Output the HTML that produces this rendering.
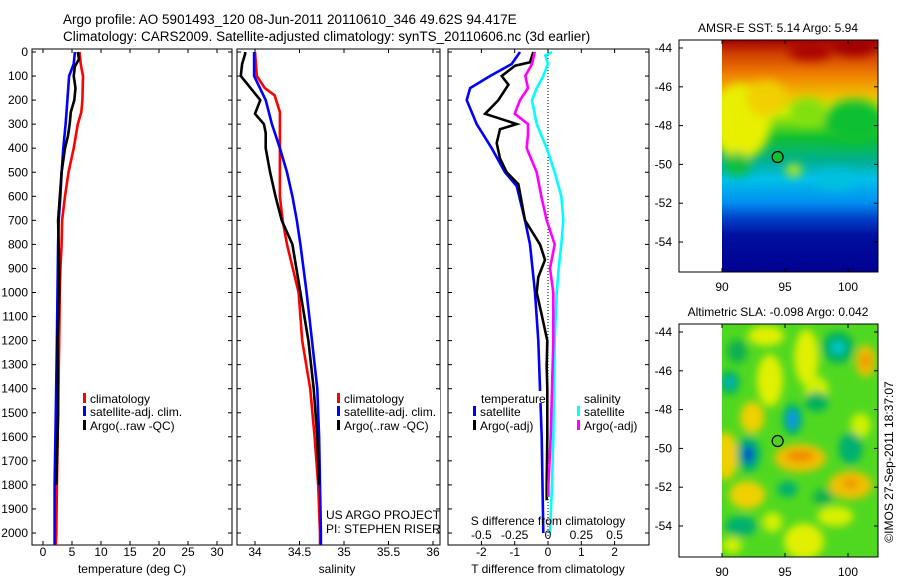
<!DOCTYPE html>
<html><head><meta charset="utf-8">
<style>
html,body{margin:0;padding:0;background:#fff;}
svg{display:block;font-family:"Liberation Sans",sans-serif;}
text{fill:#000;}
</style></head>
<body>
<svg id="fig" width="900" height="580" viewBox="0 0 900 580">
<defs>
<filter id="blur5" x="-20%" y="-20%" width="140%" height="140%"><feGaussianBlur stdDeviation="5"/></filter>
<filter id="blur3" x="-30%" y="-30%" width="160%" height="160%"><feGaussianBlur stdDeviation="4"/></filter>
<clipPath id="clipTop"><rect x="722" y="40" width="156" height="232"/></clipPath>
<clipPath id="clipBot"><rect x="722" y="324" width="156" height="233"/></clipPath>
<linearGradient id="sstGrad" x1="0" y1="0" x2="0" y2="1">
<stop offset="0" stop-color="#a00000"/><stop offset="0.06" stop-color="#d04000"/>
<stop offset="0.15" stop-color="#f08000"/><stop offset="0.24" stop-color="#f0c000"/>
<stop offset="0.31" stop-color="#c8f000"/><stop offset="0.42" stop-color="#10c030"/>
<stop offset="0.52" stop-color="#00b090"/><stop offset="0.6" stop-color="#00c0e8"/>
<stop offset="0.7" stop-color="#0090f0"/><stop offset="0.77" stop-color="#0040c8"/>
<stop offset="0.84" stop-color="#0010a0"/><stop offset="1" stop-color="#000090"/>
</linearGradient>
</defs>
<text x="63" y="24" font-size="13.5">Argo profile: AO 5901493_120 08-Jun-2011 20110610_346 49.62S 94.417E</text>
<text x="63" y="41" font-size="13.5">Climatology: CARS2009. Satellite-adjusted climatology: synTS_20110606.nc (3d earlier)</text>
<g id="plots"></g>
</svg>
<script>
// ---------- data ----------
const tickDepths = [0,100,200,300,400,500,600,700,800,900,1000,1100,1200,1300,1400,1500,1600,1700,1800,1900,2000];
// temperature (deg C)
const tClimDepth = [0,50,100,200,250,300,400,500,600,700,800,900,1000,1200,1500,1800,2000,2050];
const tClimVal   = [6.3,6.5,6.9,6.8,6.6,6.0,5.3,4.4,3.8,3.3,3.2,3.0,2.9,2.8,2.6,2.4,2.3,2.2];
const tSatDepth  = [0,50,100,200,300,400,500,600,700,800,1000,1200,1500,1800,2000,2050];
const tSatVal    = [5.5,5.3,4.5,4.2,3.9,3.5,3.2,3.0,2.7,2.6,2.5,2.4,2.2,2.0,2.0,2.0];
const tArgoDepth = [0,30,60,100,150,200,250,300,350,400,500,700,900,1000,1200,1500,1800];
const tArgoVal   = [6.0,6.2,5.5,5.3,5.6,5.4,4.8,4.6,4.3,3.8,3.2,2.6,2.8,2.8,2.5,2.6,2.3];
const tTicks = [0,5,10,15,20,25,30];
// salinity
const sClimDepth = [0,100,150,180,250,400,600,700,800,1000,1200,1400,1600,1800,2000,2050];
const sClimVal   = [34.0,34.02,34.11,34.22,34.28,34.28,34.28,34.31,34.36,34.49,34.53,34.62,34.67,34.71,34.73,34.73];
const sSatDepth  = [0,100,200,300,400,500,600,700,800,1000,1200,1400,1600,1800,2000,2050];
const sSatVal    = [33.99,33.99,34.12,34.19,34.28,34.36,34.42,34.47,34.51,34.58,34.64,34.70,34.72,34.73,34.74,34.74];
const sArgoDepth = [0,7,50,100,150,200,257,300,336,400,500,600,700,800,1000,1200,1400,1600,1800];
const sArgoVal   = [33.89,33.89,33.855,33.84,33.95,34.06,34.0,34.1,34.12,34.12,34.17,34.23,34.3,34.42,34.51,34.6,34.66,34.7,34.72];
const sTicks = [34,34.5,35,35.5,36];
// differences from climatology
const dTSatDepth = [0,50,100,150,200,300,400,500,557,700,800,1000,1200,1400,1600,2000];
const dTSatVal   = [-0.84,-1.09,-1.74,-2.34,-2.44,-2.14,-1.69,-1.29,-0.94,-0.69,-0.54,-0.39,-0.29,-0.24,-0.19,-0.14];
const dTArgoDepth = [0,43,57,100,136,200,257,286,300,321,379,443,500,550,700,800,864,936,1000,1093,1200,1307,1400,1600,1800,1864];
const dTArgoVal   = [-0.44,-0.54,-0.99,-1.39,-1.19,-1.49,-1.89,-1.24,-0.94,-1.44,-1.54,-1.44,-1.24,-0.89,-0.69,-0.24,-0.09,-0.29,-0.34,-0.19,-0.02,-0.04,-0.02,-0.02,-0.04,-0.04];
const dSSatDepth = [0,14,50,100,150,200,300,400,500,600,700,800,900,1000,1200,1400,1600,1800,2000];
const dSSatVal   = [0.03,-0.02,0.0,-0.035,-0.085,-0.12,-0.085,-0.01,0.05,0.10,0.115,0.10,0.08,0.065,0.05,0.045,0.04,0.03,0.015];
const dSArgoDepth = [0,50,100,150,200,257,300,343,400,500,600,700,800,900,1000,1200,1400,1600,1800,1850];
const dSArgoVal   = [-0.1,-0.12,-0.17,-0.15,-0.21,-0.25,-0.15,-0.15,-0.16,-0.085,-0.05,-0.01,0.05,0.015,0.04,0.04,0.03,0.02,0.003,0.003];
const dTTicks = [-2,-1,0,1,2];
const dSTicks = [-0.5,-0.25,0,0.25,0.5];
// maps
const mapLonTicks = [90,95,100];
const mapLatTicks = [-44,-46,-48,-50,-52,-54];
const argoLon = 94.417, argoLat = -49.62;

// ---------- helpers ----------
const NS = "http://www.w3.org/2000/svg";
const root = document.getElementById('plots');
function mk(tag, attrs, parent){const e=document.createElementNS(NS,tag);for(const k in attrs)e.setAttribute(k,attrs[k]);(parent||root).appendChild(e);return e;}
function txt(x,y,s,size,anchor,parent){const t=mk('text',{x:x,y:y,'font-size':size,'text-anchor':anchor||'start'},parent);t.textContent=s;return t;}
const depthY = d => 52 + d*0.2405;
const FTOP = 49;
const PT = {x0:32,x1:232}, PS={x0:237,x1:440}, PD={x0:448,x1:649};
const xT = v => 43 + 5.8*v;
const xS = v => 255 + 89*(v-34);
const xDT = v => 548 + 33.3*v;
const xDS = v => 548 + 133.3*v;

function frame(p,name){
  const r=mk('rect',{x:p.x0,y:FTOP,width:p.x1-p.x0,height:545-FTOP,fill:'none',stroke:'#000','stroke-width':1});
  
  
  tickDepths.forEach(d=>{
    const y=depthY(d);
    mk('line',{x1:p.x0,x2:p.x0+4,y1:y,y2:y,stroke:'#000'});
    mk('line',{x1:p.x1-4,x2:p.x1,y1:y,y2:y,stroke:'#000'});
  });
}
function profile(depths, vals, xf, color, name, w){
  let pts=depths.map((d,i)=>xf(vals[i]).toFixed(1)+','+depthY(d).toFixed(1)).join(' ');
  const l=mk('polyline',{points:pts,fill:'none',stroke:color,'stroke-width':w||2.6,'stroke-linejoin':'miter'});
  
  
}
function xticks(ticks, xf, y, lblY, name){
  ticks.forEach(v=>{
    const x=xf(v);
    mk('line',{x1:x,x2:x,y1:545,y2:541,stroke:'#000'});
    mk('line',{x1:x,x2:x,y1:FTOP,y2:FTOP+4,stroke:'#000'});
    const t=txt(x,lblY,String(v),12,'middle');
    
    
  });
}
function legendRow(x,y,color,label,name){
  const m=mk('rect',{x:x,y:y-10,width:3,height:10,fill:color});
  
  
  const t=txt(x+7,y,label,12);
  
  
}

// ---------- temperature panel ----------
frame(PT,'temperature-axes');
tickDepths.forEach(d=>{
  const t=txt(28,depthY(d)+4,String(d),12,'end');
  
  
});
profile(tClimDepth,tClimVal,xT,'#ff0000','temp-climatology-line');
profile(tSatDepth,tSatVal,xT,'#0000ff','temp-satellite-line');
profile(tArgoDepth,tArgoVal,xT,'#000000','temp-argo-line');
xticks(tTicks,xT,545,556,'temp-tick-label');
let at=txt(132,573,'temperature (deg C)',12,'middle');


mk('rect',{x:82,y:390,width:120,height:41,fill:'#fff'});
legendRow(83,403,'#ff0000','climatology','legend-climatology');
legendRow(83,416,'#0000ff','satellite-adj. clim.','legend-satellite-adj');
legendRow(83,430,'#000000','Argo(..raw -QC)','legend-argo');

// ---------- salinity panel ----------
frame(PS,'salinity-axes');
profile(sClimDepth,sClimVal,xS,'#ff0000','sal-climatology-line');
profile(sSatDepth,sSatVal,xS,'#0000ff','sal-satellite-line');
profile(sArgoDepth,sArgoVal,xS,'#000000','sal-argo-line');
xticks(sTicks,xS,545,556,'salinity-tick-label');
at=txt(337,573,'salinity',12,'middle');


mk('rect',{x:336,y:390,width:104,height:41,fill:'#fff'});
legendRow(337,403,'#ff0000','climatology','legend-climatology-2');
legendRow(337,416,'#0000ff','satellite-adj. clim.','legend-satellite-adj-2');
legendRow(337,430,'#000000','Argo(..raw -QC)','legend-argo-2');
at=txt(326,519,'US ARGO PROJECT',12);


at=txt(326,533,'PI: STEPHEN RISER',12);



// ---------- difference panel ----------
frame(PD,'difference-axes');
mk('line',{x1:548,x2:548,y1:FTOP,y2:545,stroke:'#000','stroke-dasharray':'1,2'});
profile(dTSatDepth,dTSatVal,xDT,'#0000ff','diff-temp-satellite-line');
profile(dTArgoDepth,dTArgoVal,xDT,'#000000','diff-temp-argo-line');
profile(dSSatDepth,dSSatVal,xDS,'#00ffff','diff-sal-satellite-line');
profile(dSArgoDepth,dSArgoVal,xDS,'#ff00ff','diff-sal-argo-line');
xticks(dTTicks,xDT,545,556,'diff-t-tick-label');
dSTicks.forEach(v=>{
  const t=txt(xDS(v),539,String(v),12,'middle');
  
  
});
at=txt(548,525,'S difference from climatology',12,'middle');


at=txt(548,573,'T difference from climatology',12,'middle');


mk('rect',{x:480,y:391,width:66,height:12,fill:'#fff'});
mk('rect',{x:583,y:391,width:44,height:12,fill:'#fff'});
at=txt(481,403,'temperature',12);


at=txt(584,403,'salinity',12);


mk('rect',{x:480,y:405,width:58,height:27,fill:'#fff'});
mk('rect',{x:583,y:405,width:58,height:27,fill:'#fff'});
legendRow(473,416,'#0000ff','satellite','legend-temp-satellite');
legendRow(473,430,'#000000','Argo(-adj)','legend-temp-argo');
legendRow(577,416,'#00ffff','satellite','legend-sal-satellite');
legendRow(577,430,'#ff00ff','Argo(-adj)','legend-sal-argo');

// ---------- maps ----------
function drawMap(top, bottom, lat44y, titleStr, titleY, kind){
  const lonX = lon => 722 + (lon-90)*12.6;
  const latY = lat => lat44y + (-44-lat)*19.4;
  const g=mk('g',{'clip-path':'url(#'+(kind==='sst'?'clipTop':'clipBot')+')'});
  
  
  if(kind==='sst'){
    mk('rect',{x:722,y:top,width:156,height:bottom-top,fill:'url(#sstGrad)'},g);
    const b=mk('g',{filter:'url(#blur5)'},g);
    mk('ellipse',{cx:lonX(91.5),cy:latY(-47.8),rx:30,ry:38,fill:'#e8f000'},b);
    mk('ellipse',{cx:lonX(93.5),cy:latY(-46.6),rx:20,ry:18,fill:'#f0d000'},b);
    mk('ellipse',{cx:lonX(100.5),cy:latY(-47.8),rx:30,ry:22,fill:'#10c030'},b);
    mk('ellipse',{cx:lonX(96.8),cy:latY(-47.3),rx:18,ry:14,fill:'#80e010'},b);
    mk('ellipse',{cx:lonX(95.7),cy:latY(-50.3),rx:8,ry:6,fill:'#d0f000'},b);
    mk('ellipse',{cx:lonX(91.2),cy:latY(-50.0),rx:14,ry:12,fill:'#10c040'},b);
    mk('ellipse',{cx:lonX(100.5),cy:latY(-43.9),rx:22,ry:10,fill:'#a00000'},b);
    mk('ellipse',{cx:lonX(97),cy:latY(-44.2),rx:22,ry:8,fill:'#a80000'},b);
    mk('ellipse',{cx:lonX(99),cy:latY(-50.8),rx:20,ry:10,fill:'#00c0e0'},b);
  } else {
    mk('rect',{x:722,y:top,width:156,height:bottom-top,fill:'#50d820'},g);
    const b=mk('g',{filter:'url(#blur3)'},g);
    const blobs=[[96.7,-45.3,12,28,'#e0f000'],[93.8,-46.5,13,26,'#e0f000'],[97.5,-47,12,14,'#d0f000'],
      [92.4,-48.4,12,16,'#f0d000'],[96.2,-50.5,26,14,'#f0c000'],[90.3,-50.4,12,24,'#f0d000'],
      [100.2,-51.9,22,14,'#f0c000'],[92,-52.4,18,14,'#f0d000'],[96.5,-54.8,20,18,'#e0f000'],
      [101.4,-45.5,10,16,'#f0c000'],[99,-53.5,18,10,'#d8f000'],[93.5,-44.2,18,10,'#e0f000'],
      [101,-48.8,10,12,'#d0f000'],[94,-53.8,10,10,'#d0f000'],[90.8,-55,10,8,'#d0f000'],
      [99.2,-44.8,16,16,'#00b060'],[90.6,-46.6,10,12,'#00b060'],[95.6,-48.5,10,16,'#00b070'],
      [92.1,-50.3,12,18,'#00b070'],[100.2,-50,12,16,'#00b070'],[91.5,-54,16,10,'#00b070'],
      [97.5,-47.6,12,10,'#00b060'],[95.2,-52.1,10,8,'#00b070'],[91.2,-45,10,12,'#10b050'],[98,-52.5,10,8,'#10b050']];
    blobs.forEach(bl=>mk('ellipse',{cx:lonX(bl[0]),cy:latY(bl[1]),rx:bl[2],ry:bl[3],fill:bl[4]},b));
    const s=[[99.2,-44.8,7,6,'#00c8d0'],[90.6,-46.6,5,5,'#00b8c8'],[95.6,-48.5,5,9,'#1090f0'],
      [92.1,-50.3,5,9,'#0040d0'],[96.2,-50.4,14,5,'#f08000'],[100.2,-51.8,7,5,'#f09000'],[101.4,-45.5,5,7,'#f09000']];
    s.forEach(bl=>mk('ellipse',{cx:lonX(bl[0]),cy:latY(bl[1]),rx:bl[2],ry:bl[3],fill:bl[4]},b));
  }
  const fr=mk('rect',{x:679,y:top,width:199,height:bottom-top,fill:'none',stroke:'#000'});
  
  
  mapLatTicks.forEach(la=>{
    const y=latY(la);
    mk('line',{x1:679,x2:683,y1:y,y2:y,stroke:'#000'});
    mk('line',{x1:874,x2:878,y1:y,y2:y,stroke:'#000'});
    const t=txt(672,y+4,String(la),12,'end');
    
    
  });
  mapLonTicks.forEach(lo=>{
    const x=lonX(lo);
    mk('line',{x1:x,x2:x,y1:bottom,y2:bottom-4,stroke:'#000'});
    mk('line',{x1:x,x2:x,y1:top,y2:top+4,stroke:'#000'});
    const t=txt(x,bottom+19,String(lo),12,'middle');
    
    
  });
  const c=mk('circle',{cx:lonX(argoLon),cy:latY(argoLat),r:5.5,fill:kind==='sst'?'#10c030':'#50d020',stroke:'#000','stroke-width':1.2});
  
  
  const t=txt(778,titleY,titleStr,12,'middle');
  
  
}
drawMap(40,272,48,'AMSR-E SST: 5.14 Argo: 5.94',32,'sst');
drawMap(324,557,332,'Altimetric SLA: -0.098 Argo: 0.042',316,'sla');
const cr=txt(0,0,'\u00A9IMOS 27-Sep-2011 18:37:07',12,'middle');
cr.setAttribute('transform','translate(893,462) rotate(-90)');


</script>
</body></html>
